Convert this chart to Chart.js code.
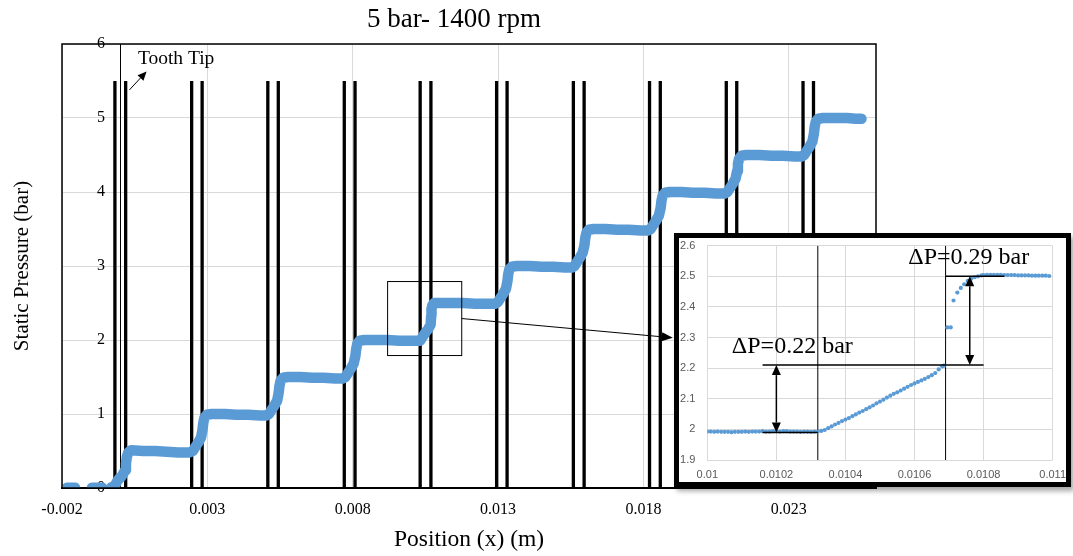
<!DOCTYPE html>
<html>
<head>
<meta charset="utf-8">
<script src="https://cdn.jsdelivr.net/npm/chart.js@4.4.1/dist/chart.umd.min.js"></script>
<style>
  html, body { margin: 0; padding: 0; background: #fff; }
  #wrap { position: relative; width: 1073px; height: 556px; overflow: hidden; background: #fff; }
  #main { position: absolute; left: 0; top: 0; display: block; }
  #zoomBox {
    position: absolute; left: 674px; top: 233px;
    width: 387px; height: 244px;
    border: 5px solid #000; background: #fff;
    box-shadow: 3px 4px 5px rgba(0, 0, 0, 0.35);
  }
  #inset { display: block; }
</style>
</head>
<body>
<div id="wrap">
  <canvas id="main" width="908" height="556"></canvas>
  <div id="zoomBox"><canvas id="inset" width="387" height="244"></canvas></div>
</div>
<script>
// ---------- main chart: texts and ticks ----------
const titleText = '5 bar- 1400 rpm';
const xTitle = 'Position (x) (m)';
const yTitle = 'Static Pressure (bar)';
const xTicks = [-0.002, 0.003, 0.008, 0.013, 0.018, 0.023];
const xTickLabels = ['-0.002', '0.003', '0.008', '0.013', '0.018', '0.023'];
const yTicks = [0, 1, 2, 3, 4, 5, 6];
const yTickLabels = ['0', '1', '2', '3', '4', '5', '6'];

// tooth flanks (m), drawn from 0 up to toothHeight (bar)
const toothEdges = [
  -0.00018, 0.00019, 0.00246, 0.00282, 0.00508, 0.00544, 0.00771, 0.00808,
  0.01032, 0.01069, 0.01295, 0.01331, 0.01559, 0.01596, 0.01821, 0.01858,
  0.02085, 0.02121, 0.02349, 0.02385
];
const toothHeight = 5.5;

// static pressure along the seal: position (m) and pressure (bar); null = no samples
const posX = [
  -0.00183, -0.00172, -0.00160, -0.00155, -0.00130,
  -0.00097, -0.00085, -0.00073, -0.00062, -0.00050,
  -0.00030, -0.00022, -0.00017, -0.00010, -0.00003, 0.00004, 0.00010, 0.00017, 0.00020, 0.00023, 0.00028, 0.00038,
  0.0008, 0.0012, 0.0016, 0.0020, 0.00238,
  0.00250, 0.00258, 0.00268, 0.00278, 0.00283, 0.00286, 0.00290, 0.00298, 0.00315,
  0.0036, 0.0040, 0.0044, 0.0048, 0.00502,
  0.00512, 0.00520, 0.00530, 0.00540, 0.00545, 0.00548, 0.00552, 0.00560, 0.00577,
  0.0062, 0.0066, 0.0070, 0.0074, 0.00765,
  0.00775, 0.00783, 0.00793, 0.00803, 0.00809, 0.00812, 0.00816, 0.00824, 0.00840,
  0.0088, 0.0092, 0.0096, 0.0100, 0.01032,
  0.01040, 0.01050, 0.01060, 0.01068, 0.01070, 0.01071, 0.01074, 0.01080, 0.01100,
  0.0114, 0.0118, 0.0122, 0.0126, 0.01289,
  0.01299, 0.01307, 0.01317, 0.01327, 0.01332, 0.01335, 0.01339, 0.01347, 0.01364,
  0.0141, 0.0145, 0.0149, 0.0153, 0.01553,
  0.01563, 0.01571, 0.01581, 0.01591, 0.01597, 0.01600, 0.01604, 0.01612, 0.01629,
  0.0167, 0.0171, 0.0175, 0.0179, 0.01815,
  0.01825, 0.01833, 0.01843, 0.01853, 0.01859, 0.01862, 0.01866, 0.01874, 0.01891,
  0.0193, 0.0197, 0.0201, 0.0205, 0.02079,
  0.02089, 0.02097, 0.02107, 0.02117, 0.02122, 0.02125, 0.02129, 0.02137, 0.02154,
  0.0220, 0.0224, 0.0228, 0.0232, 0.02343,
  0.02353, 0.02361, 0.02371, 0.02381, 0.02386, 0.02389, 0.02393, 0.02401, 0.02418,
  0.0246, 0.0250, 0.0253, 0.02550
];
const posP = [
  0.005, 0.005, 0.004, 0.005, null,
  0.004, 0.005, 0.004, 0.005, null,
  0.01, 0.02, 0.04, 0.09, 0.13, 0.15, 0.19, 0.24, 0.33, 0.42, 0.48, 0.51,
  0.50, 0.50, 0.49, 0.48, 0.48,
  0.50, 0.55, 0.61, 0.68, 0.78, 0.88, 0.95, 0.99, 1.00,
  1.00, 0.99, 0.99, 0.98, 0.98,
  1.00, 1.05, 1.11, 1.18, 1.28, 1.38, 1.45, 1.49, 1.50,
  1.50, 1.49, 1.49, 1.48, 1.48,
  1.50, 1.55, 1.61, 1.68, 1.78, 1.88, 1.95, 1.99, 2.00,
  2.00, 2.00, 1.99, 1.99, 1.99,
  2.04, 2.10, 2.15, 2.21, 2.33, 2.42, 2.47, 2.50, 2.50,
  2.50, 2.50, 2.49, 2.49, 2.49,
  2.51, 2.56, 2.62, 2.69, 2.79, 2.89, 2.96, 2.99, 3.00,
  3.00, 2.99, 2.99, 2.98, 2.98,
  3.00, 3.05, 3.11, 3.18, 3.28, 3.38, 3.45, 3.49, 3.50,
  3.50, 3.49, 3.49, 3.48, 3.48,
  3.50, 3.55, 3.61, 3.68, 3.78, 3.88, 3.95, 3.99, 4.00,
  4.00, 3.99, 3.99, 3.98, 3.98,
  4.00, 4.05, 4.11, 4.18, 4.28, 4.38, 4.45, 4.49, 4.50,
  4.50, 4.49, 4.49, 4.48, 4.48,
  4.50, 4.55, 4.61, 4.68, 4.78, 4.88, 4.95, 4.99, 5.00,
  5.00, 5.00, 4.99, 4.99
];

// callouts on the main chart (data units)
const detailBox = { x0: 0.0092, x1: 0.01175, p0: 1.79, p1: 2.79 };
const leaderFrom = { x: 0.01175, p: 2.29 };
const leaderTo = { x: 0.01901, p: 2.03 };
const tipLabel = 'Tooth Tip';
const tipLabelAt = { x: 0.00061, p: 5.726 };
const tipArrowFrom = { x: 0.00032, p: 5.38 };
const tipArrowTo = { x: 0.00091, p: 5.63 };

// ---------- detail chart ----------
const insetXTicks = [0.01, 0.0102, 0.0104, 0.0106, 0.0108, 0.011];
const insetXLabels = ['0.01', '0.0102', '0.0104', '0.0106', '0.0108', '0.011'];
const insetYTicks = [1.9, 2.0, 2.1, 2.2, 2.3, 2.4, 2.5, 2.6];
const insetYLabels = ['1.9', '2', '2.1', '2.2', '2.3', '2.4', '2.5', '2.6'];
const insetEdges = [0.01032, 0.01069];

const insetX = [
  0.01000, 0.01001, 0.01002, 0.01003, 0.01004, 0.01005, 0.01006, 0.01007, 0.01008, 0.01009,
  0.01010, 0.01011, 0.01012, 0.01013, 0.01014, 0.01015, 0.01016, 0.01017, 0.01018, 0.01019,
  0.01020, 0.01021, 0.01022, 0.01023, 0.01024, 0.01025, 0.01026, 0.01027, 0.01028, 0.01029,
  0.01030, 0.01031, 0.01032,
  0.01033, 0.01034, 0.01035, 0.01036, 0.01037, 0.01038, 0.01039, 0.01040, 0.01041, 0.01042,
  0.01043, 0.01044, 0.01045, 0.01046, 0.01047, 0.01048, 0.01049, 0.01050, 0.01051, 0.01052,
  0.01053, 0.01054, 0.01055, 0.01056, 0.01057, 0.01058, 0.01059, 0.01060, 0.01061, 0.01062,
  0.01063, 0.01064, 0.01065, 0.01066, 0.01067, 0.01068, 0.010685,
  0.010695, 0.010705, 0.010713, 0.010724, 0.010734, 0.010744, 0.010754, 0.010764, 0.010774, 0.010784, 0.010794,
  0.01080, 0.01081, 0.01082, 0.01083, 0.01084, 0.01085, 0.01086, 0.01087, 0.01088, 0.01089,
  0.01090, 0.01091, 0.01092, 0.01093, 0.01094, 0.01095, 0.01096, 0.01097, 0.01098, 0.01099
];
const insetP = [
  1.993, 1.993, 1.992, 1.993, 1.992, 1.992, 1.992, 1.991, 1.992, 1.992,
  1.992, 1.993, 1.992, 1.993, 1.993, 1.993, 1.994, 1.993, 1.993, 1.994,
  1.994, 1.993, 1.994, 1.994, 1.993, 1.993, 1.993, 1.992, 1.993, 1.993,
  1.992, 1.993, 1.993,
  1.995, 1.998, 2.004, 2.010, 2.016, 2.021, 2.027, 2.032, 2.037, 2.043,
  2.049, 2.055, 2.060, 2.066, 2.072, 2.078, 2.085, 2.091, 2.097, 2.104,
  2.110, 2.116, 2.121, 2.127, 2.133, 2.139, 2.145, 2.150, 2.155, 2.160,
  2.165, 2.171, 2.177, 2.184, 2.196, 2.206, 2.208,
  2.333, 2.333, 2.421, 2.447, 2.462, 2.474, 2.485, 2.492, 2.497, 2.500, 2.503,
  2.504, 2.505, 2.505, 2.505, 2.505, 2.505, 2.504, 2.504, 2.504, 2.504,
  2.503, 2.503, 2.503, 2.503, 2.502, 2.502, 2.502, 2.502, 2.502, 2.501
];

// pressure drop markers: levels (bar) and their labels
const dropLevels = [1.99, 2.21, 2.50];
const dropLabels = ['\u0394P=0.22 bar', '\u0394P=0.29 bar'];
const dropArrowX = [0.0102, 0.01076];
const dropLineSpans = [[0.01016, 0.01032], [0.01016, 0.0108], [0.01069, 0.01086]];
const dropLabelAt = [{ x: 0.010071, p: 2.25 }, { x: 0.010582, p: 2.54 }];

// ---------- helpers ----------
const SERIF = 'Liberation Serif';
const fixedTicks = values => scale => { scale.ticks = values.map(v => ({ value: v })); };

function edgeSegments(edges, lo, hi) {
  const pts = [];
  edges.forEach(e => { pts.push({ x: e, y: lo }, { x: e, y: hi }, { x: e, y: null }); });
  return pts;
}

function arrowHead(ctx, x1, y1, x2, y2, len, half) {
  const a = Math.atan2(y2 - y1, x2 - x1);
  const bx = x2 - len * Math.cos(a), by = y2 - len * Math.sin(a);
  ctx.beginPath();
  ctx.moveTo(x2, y2);
  ctx.lineTo(bx + half * Math.sin(a), by - half * Math.cos(a));
  ctx.lineTo(bx - half * Math.sin(a), by + half * Math.cos(a));
  ctx.closePath();
  ctx.fill();
  return [bx, by];
}

function arrow(ctx, x1, y1, x2, y2, len, half) {
  const [bx, by] = arrowHead(ctx, x1, y1, x2, y2, len, half);
  ctx.beginPath(); ctx.moveTo(x1, y1); ctx.lineTo(bx, by); ctx.stroke();
}

function doubleArrow(ctx, x, y1, y2, len, half) {
  const [, b1] = arrowHead(ctx, x, y2, x, y1, len, half);
  const [, b2] = arrowHead(ctx, x, y1, x, y2, len, half);
  ctx.beginPath(); ctx.moveTo(x, b1); ctx.lineTo(x, b2); ctx.stroke();
}

// ---------- main chart ----------
const mainMarks = {
  id: 'mainMarks',
  beforeDatasetsDraw(chart) {
    const { ctx, chartArea: a, scales: { x } } = chart;
    ctx.save();
    ctx.strokeStyle = '#000';
    ctx.lineWidth = 1;
    const x0 = Math.round(x.getPixelForValue(0)) + 0.5;
    ctx.beginPath(); ctx.moveTo(x0, a.top); ctx.lineTo(x0, a.bottom); ctx.stroke();
    ctx.restore();
  },
  afterDatasetsDraw(chart) {
    const { ctx, chartArea: a, scales: { x, y } } = chart;
    ctx.save();
    // plot frame
    ctx.strokeStyle = '#000';
    ctx.lineWidth = 1.5;
    ctx.strokeRect(a.left, a.top, a.right - a.left, a.bottom - a.top);

    // detail window
    ctx.lineWidth = 1;
    const bx0 = x.getPixelForValue(detailBox.x0), bx1 = x.getPixelForValue(detailBox.x1);
    const by0 = y.getPixelForValue(detailBox.p0), by1 = y.getPixelForValue(detailBox.p1);
    ctx.strokeRect(bx0, by1, bx1 - bx0, by0 - by1);

    // leader to the detail chart
    ctx.fillStyle = '#000';
    arrow(ctx, x.getPixelForValue(leaderFrom.x), y.getPixelForValue(leaderFrom.p),
          x.getPixelForValue(leaderTo.x), y.getPixelForValue(leaderTo.p), 11, 4.5);

    // tooth tip note
    arrow(ctx, x.getPixelForValue(tipArrowFrom.x), y.getPixelForValue(tipArrowFrom.p),
          x.getPixelForValue(tipArrowTo.x), y.getPixelForValue(tipArrowTo.p), 9, 4);
    ctx.font = '19.5px "' + SERIF + '"';
    ctx.textAlign = 'left';
    ctx.textBaseline = 'alphabetic';
    ctx.fillText(tipLabel, x.getPixelForValue(tipLabelAt.x), y.getPixelForValue(tipLabelAt.p));
    ctx.restore();
  }
};

new Chart(document.getElementById('main'), {
  type: 'scatter',
  data: {
    datasets: [
      {
        data: edgeSegments(toothEdges, 0, toothHeight),
        showLine: true, spanGaps: false,
        borderColor: '#000', borderWidth: 3.3,
        pointRadius: 0, order: 2
      },
      {
        data: posX.map((v, i) => ({ x: v, y: posP[i] })),
        showLine: true, spanGaps: false,
        borderColor: '#5b9bd5', borderWidth: 10.5,
        borderCapStyle: 'round', borderJoinStyle: 'round',
        pointRadius: 0, order: 1
      }
    ]
  },
  options: {
    responsive: false,
    animation: false,
    devicePixelRatio: 1,
    layout: { padding: { left: 0, right: 0, top: 0, bottom: 0 } },
    plugins: {
      legend: { display: false },
      tooltip: { enabled: false },
      title: {
        display: true, text: titleText, color: '#000',
        font: { family: SERIF, size: 27, weight: 'normal' },
        padding: { top: 4, bottom: 7.6 }
      }
    },
    scales: {
      x: {
        type: 'linear', min: -0.002, max: 0.026,
        afterBuildTicks: fixedTicks(xTicks),
        afterFit: s => { s.height = 68; },
        ticks: {
          callback: v => xTickLabels[xTicks.indexOf(v)],
          color: '#000', font: { family: SERIF, size: 16 },
          padding: 0, maxRotation: 0, autoSkip: false
        },
        grid: { color: '#d9d9d9', tickLength: 12, tickColor: 'rgba(0,0,0,0)' },
        border: { color: '#000', width: 2 },
        title: {
          display: true, text: xTitle, color: '#000',
          font: { family: SERIF, size: 23.5 },
          padding: { top: 0, bottom: 2 }
        }
      },
      y: {
        type: 'linear', min: 0, max: 6,
        afterBuildTicks: fixedTicks(yTicks),
        afterFit: s => { s.width = 62; },
        ticks: {
          mirror: true, padding: 35,
          callback: v => yTickLabels[yTicks.indexOf(v)],
          color: '#000', font: { family: SERIF, size: 16, lineHeight: 1.1 }
        },
        grid: { color: '#d9d9d9', drawTicks: false },
        border: { display: false },
        title: {
          display: true, text: yTitle, color: '#000',
          font: { family: SERIF, size: 21 },
          padding: { top: 9.5, bottom: 0 }
        }
      },
      yRight: {
        type: 'linear', position: 'right', display: true,
        afterFit: s => { s.width = 32; },
        ticks: { display: false },
        grid: { display: false, drawTicks: false },
        border: { display: false }
      }
    }
  },
  plugins: [mainMarks]
});

// ---------- detail chart ----------
const insetMarks = {
  id: 'insetMarks',
  afterDatasetsDraw(chart) {
    const { ctx, scales: { x, y } } = chart;
    ctx.save();
    ctx.strokeStyle = '#000';
    ctx.fillStyle = '#000';
    ctx.lineWidth = 1.5;
    dropLineSpans.forEach((span, i) => {
      const py = y.getPixelForValue(dropLevels[i]);
      ctx.beginPath();
      ctx.moveTo(x.getPixelForValue(span[0]), py);
      ctx.lineTo(x.getPixelForValue(span[1]), py);
      ctx.stroke();
    });
    dropArrowX.forEach((ax, i) => {
      doubleArrow(ctx, x.getPixelForValue(ax),
        y.getPixelForValue(dropLevels[i + 1]), y.getPixelForValue(dropLevels[i]), 10, 4.5);
    });
    ctx.font = '24px "' + SERIF + '"';
    ctx.textAlign = 'left';
    ctx.textBaseline = 'alphabetic';
    dropLabels.forEach((t, i) => {
      ctx.fillText(t, x.getPixelForValue(dropLabelAt[i].x), y.getPixelForValue(dropLabelAt[i].p));
    });
    ctx.restore();
  }
};

new Chart(document.getElementById('inset'), {
  type: 'scatter',
  data: {
    datasets: [
      {
        data: edgeSegments(insetEdges, 1.9, 2.6),
        showLine: true, spanGaps: false,
        borderColor: '#000', borderWidth: 1,
        pointRadius: 0, order: 2
      },
      {
        data: insetX.map((v, i) => ({ x: v, y: insetP[i] })),
        showLine: false,
        pointRadius: 2.1, pointBorderWidth: 0,
        pointBackgroundColor: '#5b9bd5', order: 1
      }
    ]
  },
  options: {
    responsive: false,
    animation: false,
    devicePixelRatio: 1,
    layout: { padding: { left: 0, right: 13, top: 7.7, bottom: 0 } },
    plugins: { legend: { display: false }, tooltip: { enabled: false } },
    scales: {
      x: {
        type: 'linear', min: 0.01, max: 0.011,
        afterBuildTicks: fixedTicks(insetXTicks),
        afterFit: s => { s.height = 22; },
        ticks: {
          callback: v => insetXLabels[insetXTicks.indexOf(v)],
          color: '#595959', font: { family: 'Liberation Sans', size: 11 },
          padding: 0, maxRotation: 0, autoSkip: false
        },
        grid: { color: '#d9d9d9', tickLength: 8, tickColor: 'rgba(0,0,0,0)' },
        border: { display: false }
      },
      y: {
        type: 'linear', min: 1.9, max: 2.6,
        afterBuildTicks: fixedTicks(insetYTicks),
        afterFit: s => { s.width = 28.3; },
        ticks: {
          callback: v => insetYLabels[insetYTicks.indexOf(v)],
          color: '#595959', font: { family: 'Liberation Sans', size: 11 },
          padding: 0
        },
        grid: { color: '#d9d9d9', tickLength: 12, tickColor: 'rgba(0,0,0,0)' },
        border: { display: false }
      }
    }
  },
  plugins: [insetMarks]
});
</script>
</body>
</html>
